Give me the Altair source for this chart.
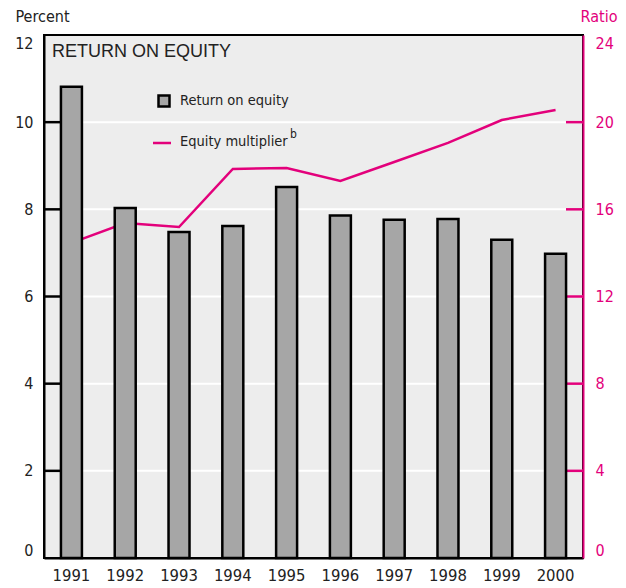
import altair as alt
import pandas as pd

years = ["1991", "1992", "1993", "1994", "1995", "1996", "1997", "1998", "1999", "2000"]
roe = [10.81, 8.03, 7.48, 7.62, 8.51, 7.86, 7.76, 7.78, 7.30, 6.98]
multiplier = [14.46, 15.37, 15.19, 17.85, 17.90, 17.30, 18.17, 19.05, 20.10, 20.56]
pct_ticks = [0, 2, 4, 6, 8, 10, 12]
ratio_ticks = [0, 4, 8, 12, 16, 20, 24]
inner_pct = [2, 4, 6, 8, 10]
inner_ratio = [4, 8, 12, 16, 20]

MAGENTA = "#e3007b"
GRAY = "#a6a6a6"
BG = "#ededed"
TXT = "#222222"
NARROW = "Liberation Sans Narrow, DejaVu Sans Condensed, sans-serif"
W, H = 539, 523

df = pd.DataFrame({"year": years, "roe": roe, "mult": multiplier})
xscale = alt.Scale(paddingInner=0.61, paddingOuter=0.315)
xenc = alt.X("year:N", scale=xscale, sort=years,
             axis=alt.Axis(title=None, labelAngle=0, ticks=False, domainColor="black",
                           domainWidth=2, labelPadding=9, labelFontSize=16.5,
                           labelFont=NARROW, labelColor=TXT, zindex=1))

pscale = alt.Scale(domain=[0, 12], nice=False, zero=True)
rscale = alt.Scale(domain=[0, 24], nice=False, zero=True)

right_axis = alt.Axis(orient="right", title="Ratio", values=ratio_ticks, ticks=False,
                      grid=False, labelFlush=True, labelPadding=12, domainColor=MAGENTA,
                      domainWidth=2, labelColor=MAGENTA, labelFontSize=16, labelFont=NARROW,
                      titleColor=MAGENTA, titleFont=NARROW, titleFontSize=16,
                      titleFontWeight="normal", titleAngle=0, titleAlign="right",
                      titleBaseline="middle", titleX=34, titleY=-19, zindex=1)
left_axis = alt.Axis(orient="left", title="Percent", values=pct_ticks, ticks=False,
                     grid=False, labelFlush=True, labelPadding=11, domainColor="black",
                     domainWidth=2, labelColor=TXT, labelFontSize=16, labelFont=NARROW,
                     titleColor=TXT, titleFont=NARROW, titleFontSize=16,
                     titleFontWeight="normal", titleAngle=0, titleAlign="left",
                     titleBaseline="middle", titleX=-29, titleY=-19, zindex=1)

# right (ratio) sublayer: grid, line, inward ticks
grid = alt.Chart(pd.DataFrame({"mult": inner_ratio})).mark_rule(color="white", strokeWidth=2).encode(
    y=alt.Y("mult:Q", scale=rscale, axis=right_axis))
line = alt.Chart(df).mark_line(color=MAGENTA, strokeWidth=2.5).encode(
    x=xenc,
    y=alt.Y("mult:Q", scale=rscale, axis=right_axis))
rticks = alt.Chart(pd.DataFrame({"mult": inner_ratio})).mark_rule(color=MAGENTA, strokeWidth=2.5).encode(
    y=alt.Y("mult:Q", scale=rscale, axis=right_axis), x=alt.value(W - 17), x2=alt.value(W))
right = alt.layer(grid, line, rticks)

# left (percent) sublayer: bars, inward ticks, title, legend
bars = alt.Chart(df).mark_bar(fill=GRAY, stroke="black", strokeWidth=2.5).encode(
    x=xenc,
    y=alt.Y("roe:Q", scale=pscale, axis=left_axis))
lticks = alt.Chart(pd.DataFrame({"roe": inner_pct})).mark_rule(color="black", strokeWidth=2.5).encode(
    y=alt.Y("roe:Q", scale=pscale, axis=left_axis), x=alt.value(0), x2=alt.value(17))

title = alt.Chart(pd.DataFrame({"t": ["RETURN ON EQUITY"]})).mark_text(
    align="left", baseline="alphabetic", fontSize=18, font="Liberation Sans", color=TXT).encode(
    text="t:N", x=alt.value(8), y=alt.value(22))
leg_sq = alt.Chart(pd.DataFrame({"t": ["Return on equity"]})).mark_square(
    size=121, fill=GRAY, stroke="black", strokeWidth=2.5, opacity=1).encode(
    x=alt.value(120), y=alt.value(66))
leg_t1 = alt.Chart(pd.DataFrame({"t": ["Return on equity"]})).mark_text(
    align="left", baseline="middle", fontSize=14.5, font=NARROW, color=TXT).encode(
    text="t:N", x=alt.value(136), y=alt.value(66))
leg_ln = alt.Chart(pd.DataFrame({"t": ["Equity multiplier"]})).mark_rule(
    color=MAGENTA, strokeWidth=2.5).encode(x=alt.value(109), x2=alt.value(127), y=alt.value(108))
leg_t2 = alt.Chart(pd.DataFrame({"t": ["Equity multiplier"]})).mark_text(
    align="left", baseline="middle", fontSize=14.5, font=NARROW, color=TXT).encode(
    text="t:N", x=alt.value(136), y=alt.value(107))
leg_b = alt.Chart(pd.DataFrame({"t": ["b"]})).mark_text(
    align="left", baseline="middle", fontSize=12, font=NARROW, color=TXT).encode(
    text="t:N", x=alt.value(246), y=alt.value(99))

left = alt.layer(bars, lticks, title, leg_sq, leg_t1, leg_ln, leg_t2, leg_b)

chart = alt.layer(right, left).resolve_scale(y="independent").properties(
    width=W, height=H,
    padding={"left": 36, "top": 27, "right": 35, "bottom": 30},
    autosize=alt.AutoSizeParams(type="none"),
    background="white",
).configure_view(stroke="black", strokeWidth=2, fill=BG)

chart.save("out.html", embed_options={"renderer": "svg", "actions": False})
